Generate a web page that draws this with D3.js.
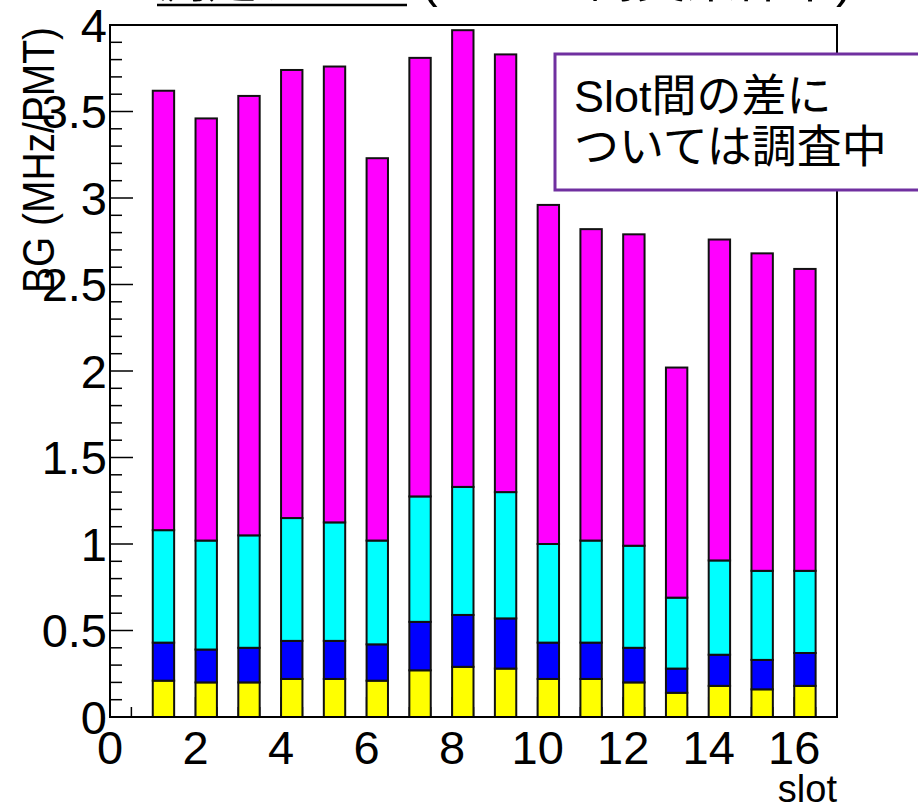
<!DOCTYPE html>
<html>
<head>
<meta charset="utf-8">
<script src="https://cdn.jsdelivr.net/npm/d3@7"></script>
<style>
  html, body { margin: 0; padding: 0; background: #fff; }
  svg { display: block; }
  text { font-family: "Liberation Sans", Arial, "Noto Sans CJK JP", sans-serif; fill: #000; }
</style>
</head>
<body>
<svg id="chart" width="918" height="803"></svg>
<script>
// Background rate per PMT, stacked by component, for each slot
const slots = [1, 2, 3, 4, 5, 6, 7, 8, 9, 10, 11, 12, 13, 14, 15, 16];
const yellowRate  = [0.21, 0.20, 0.20, 0.22, 0.22, 0.21, 0.27, 0.29, 0.28, 0.22, 0.22, 0.20, 0.14, 0.18, 0.16, 0.18];
const blueRate    = [0.22, 0.19, 0.20, 0.22, 0.22, 0.21, 0.28, 0.30, 0.29, 0.21, 0.21, 0.20, 0.14, 0.18, 0.17, 0.19];
const cyanRate    = [0.65, 0.63, 0.65, 0.71, 0.685, 0.60, 0.725, 0.74, 0.73, 0.57, 0.59, 0.59, 0.41, 0.545, 0.515, 0.475];
const magentaRate = [2.54, 2.44, 2.54, 2.59, 2.635, 2.21, 2.535, 2.64, 2.53, 1.96, 1.80, 1.80, 1.33, 1.855, 1.835, 1.745];
const seriesKeys  = ["yellow", "blue", "cyan", "magenta"];
const seriesColors = ["#ffff00", "#0000ff", "#00ffff", "#ff00ff"];
const xTickValues = [0, 2, 4, 6, 8, 10, 12, 14, 16];
const yTickValues = [0, 0.5, 1, 1.5, 2, 2.5, 3, 3.5, 4];
const titleMain = "測定データ";
const titleNote = " (ビーム衝突条件下)";
const noteLines = ["Slot間の差に", "ついては調査中"];

const rows = slots.map((s, i) => ({
  slot: s,
  yellow: yellowRate[i], blue: blueRate[i], cyan: cyanRate[i], magenta: magentaRate[i]
}));

const svg = d3.select("#chart");
const frame = { left: 110, right: 837, top: 25, bottom: 717 };

const x = d3.scaleLinear().domain([0, 17]).range([frame.left, frame.right]);
const y = d3.scaleLinear().domain([0, 4]).range([frame.bottom, frame.top]);
const color = d3.scaleOrdinal().domain(seriesKeys).range(seriesColors);

// Title (runs off the top edge)
const title = svg.append("text")
  .attr("x", 157).attr("y", -3)
  .style("font-size", "50px");
title.append("tspan").text(titleMain);
title.append("tspan").text(titleNote);
svg.append("line")
  .attr("x1", 157).attr("x2", 407).attr("y1", 5).attr("y2", 5)
  .attr("stroke", "#000").attr("stroke-width", 2.5);

// Y axis: major ticks every 0.5, minor every 0.1
const yMinor = d3.range(0, 4.0001, 0.1).map(v => +v.toFixed(1));
svg.append("g")
  .selectAll("line").data(yMinor).join("line")
  .attr("x1", frame.left)
  .attr("x2", d => frame.left + (Math.abs(d * 2 - Math.round(d * 2)) < 1e-6 ? 23 : 12))
  .attr("y1", d => y(d)).attr("y2", d => y(d))
  .attr("stroke", "#000").attr("stroke-width", 1.5);

svg.append("g")
  .selectAll("text").data(yTickValues).join("text")
  .attr("x", 107).attr("y", d => y(d))
  .attr("text-anchor", "end").attr("dy", "0.36em")
  .style("font-size", "47px")
  .text(d => d3.format("~g")(d));

// X axis: major ticks every 2, minor every 0.5
const xMinor = d3.range(0, 17.0001, 0.5);
svg.append("g")
  .selectAll("line").data(xMinor).join("line")
  .attr("x1", d => x(d)).attr("x2", d => x(d))
  .attr("y1", frame.bottom)
  .attr("y2", d => frame.bottom - (d % 2 === 0 ? 20 : 10))
  .attr("stroke", "#000").attr("stroke-width", 1.5);

svg.append("g")
  .selectAll("text").data(xTickValues).join("text")
  .attr("x", d => x(d)).attr("y", 764)
  .attr("text-anchor", "middle")
  .style("font-size", "47px")
  .text(d => d);

// Axis titles
svg.append("text")
  .attr("x", frame.right).attr("y", 802)
  .attr("text-anchor", "end")
  .style("font-size", "38px")
  .text("slot");

svg.append("text")
  .attr("transform", "translate(54,27) rotate(-90)")
  .attr("text-anchor", "end")
  .attr("textLength", 266).attr("lengthAdjust", "spacingAndGlyphs")
  .style("font-size", "44px")
  .text("BG (MHz/PMT)");

// Stacked bars
const stacked = d3.stack().keys(seriesKeys)(rows);
svg.append("g")
  .selectAll("g").data(stacked).join("g")
  .attr("fill", d => color(d.key))
  .selectAll("rect").data(d => d).join("rect")
  .attr("x", d => x(d.data.slot))
  .attr("width", d => x(d.data.slot + 0.5) - x(d.data.slot))
  .attr("y", d => y(d[1]))
  .attr("height", d => y(d[0]) - y(d[1]))
  .attr("stroke", "#111").attr("stroke-width", 2);

// Frame
svg.append("rect")
  .attr("x", frame.left).attr("y", frame.top)
  .attr("width", frame.right - frame.left)
  .attr("height", frame.bottom - frame.top)
  .attr("fill", "none").attr("stroke", "#000").attr("stroke-width", 2);

// Annotation box
svg.append("rect")
  .attr("x", 555).attr("y", 54)
  .attr("width", 380).attr("height", 136)
  .attr("fill", "#fff").attr("stroke", "#7030a0").attr("stroke-width", 3);

svg.append("g")
  .selectAll("text").data(noteLines).join("text")
  .attr("x", 574).attr("y", (d, i) => 112 + i * 51)
  .style("font-size", "45px")
  .text(d => d);
</script>
</body>
</html>
